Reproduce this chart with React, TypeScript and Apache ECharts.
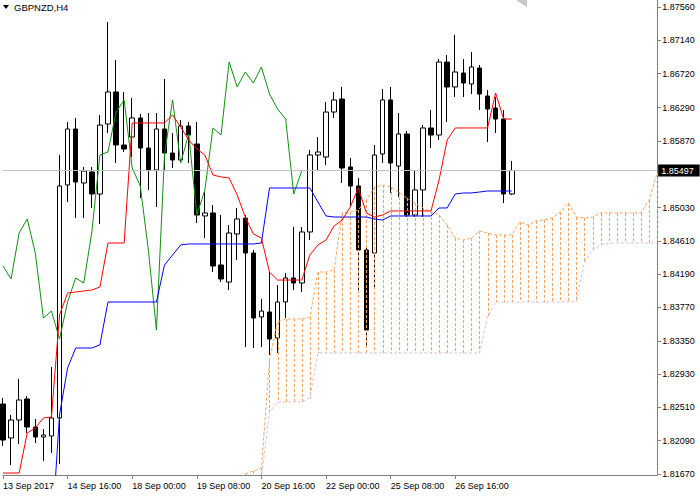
import React, { useEffect, useRef } from "react";
import * as echarts from "echarts";

// ---- tick labels ----
const xTickIndex = [0, 8, 16, 24, 32, 40, 48, 56];
const xTickLabels = [
  "13 Sep 2017", "14 Sep 16:00", "18 Sep 00:00", "19 Sep 08:00",
  "20 Sep 16:00", "22 Sep 00:00", "25 Sep 08:00", "26 Sep 16:00",
];
const yTickLabels = [
  "1.81670", "1.82090", "1.82510", "1.82930", "1.83350", "1.83770", "1.84190",
  "1.84610", "1.85030", "1.85870", "1.86290", "1.86720", "1.87140", "1.87560",
];
const slotCount = 82; // 64 bars + future slots for the shifted cloud
const lastPrice = 1.85497;
const lastPriceLabel = "1.85497";

// ---- candles: [open, close, low, high] ----
const candles = [
  [1.82553, 1.82098, 1.82023, 1.82628],
  [1.82124, 1.82351, 1.81783, 1.82414],
  [1.82351, 1.82603, 1.82048, 1.82868],
  [1.82616, 1.82262, 1.82187, 1.82653],
  [1.82262, 1.82136, 1.82061, 1.82363],
  [1.82136, 1.82161, 1.81834, 1.82237],
  [1.82149, 1.82376, 1.81934, 1.83019],
  [1.82376, 1.85302, 1.81796, 1.85693],
  [1.85315, 1.86021, 1.85100, 1.86109],
  [1.86021, 1.85353, 1.84898, 1.86160],
  [1.85340, 1.85491, 1.84898, 1.85542],
  [1.85479, 1.85201, 1.85025, 1.85542],
  [1.85201, 1.86071, 1.84823, 1.86198],
  [1.86084, 1.86488, 1.85971, 1.87371],
  [1.86488, 1.85819, 1.85592, 1.86891],
  [1.85819, 1.85769, 1.85731, 1.86488],
  [1.85920, 1.86160, 1.85668, 1.86412],
  [1.86160, 1.85781, 1.85151, 1.86210],
  [1.85781, 1.85504, 1.85252, 1.86223],
  [1.85504, 1.86021, 1.85037, 1.86223],
  [1.86021, 1.85718, 1.85491, 1.86652],
  [1.85718, 1.85630, 1.85529, 1.85971],
  [1.85630, 1.86059, 1.85592, 1.86134],
  [1.86059, 1.85945, 1.85592, 1.86109],
  [1.85832, 1.84936, 1.84835, 1.86109],
  [1.84924, 1.84962, 1.84646, 1.85226],
  [1.84962, 1.84293, 1.84217, 1.85062],
  [1.84306, 1.84129, 1.84091, 1.84936],
  [1.84091, 1.84709, 1.83990, 1.84810],
  [1.84697, 1.84886, 1.84369, 1.85025],
  [1.84898, 1.84457, 1.83271, 1.84936],
  [1.84457, 1.83637, 1.83259, 1.84495],
  [1.83650, 1.83725, 1.83271, 1.83877],
  [1.83713, 1.83372, 1.83171, 1.84217],
  [1.83385, 1.83839, 1.83196, 1.84053],
  [1.83839, 1.84142, 1.83637, 1.84205],
  [1.84142, 1.84079, 1.83990, 1.84785],
  [1.84079, 1.84722, 1.83965, 1.84785],
  [1.84722, 1.85693, 1.84621, 1.85756],
  [1.85693, 1.85731, 1.85504, 1.85920],
  [1.85668, 1.86235, 1.85567, 1.86362],
  [1.86235, 1.86387, 1.86160, 1.86488],
  [1.86399, 1.85529, 1.85340, 1.86551],
  [1.85542, 1.85302, 1.85037, 1.85655],
  [1.85302, 1.84495, 1.83990, 1.85403],
  [1.84495, 1.83486, 1.83271, 1.84558],
  [1.84457, 1.85693, 1.83990, 1.85819],
  [1.85706, 1.86387, 1.85592, 1.86525],
  [1.86387, 1.85592, 1.85214, 1.86551],
  [1.85554, 1.85958, 1.85163, 1.86223],
  [1.85958, 1.84936, 1.84911, 1.85996],
  [1.84936, 1.85252, 1.84911, 1.85504],
  [1.85252, 1.86034, 1.84911, 1.86071],
  [1.86034, 1.85945, 1.85781, 1.86261],
  [1.85945, 1.86866, 1.85882, 1.86904],
  [1.86866, 1.86551, 1.86109, 1.86954],
  [1.86551, 1.86740, 1.86425, 1.87207],
  [1.86727, 1.86601, 1.86425, 1.86904],
  [1.86589, 1.86803, 1.86462, 1.86992],
  [1.86790, 1.86462, 1.86261, 1.86828],
  [1.86437, 1.86273, 1.85857, 1.86513],
  [1.86286, 1.86147, 1.85971, 1.86425],
  [1.86147, 1.85201, 1.85088, 1.86261],
  [1.85201, 1.85497, 1.85189, 1.85617],
];

// ---- Ichimoku lines ----
const tenkan = [
  1.81682, 1.81682, 1.81682, 1.82187, 1.82250, 1.82376, 1.82389, 1.83675,
  1.83953, 1.83965, 1.83978, 1.83990, 1.84028, 1.84583, 1.84583, 1.84583,
  1.86097, 1.86097, 1.86097, 1.86097, 1.86097, 1.86198, 1.86046, 1.85882,
  1.85769, 1.85693, 1.85441, 1.85416, 1.85403, 1.85189, 1.84911, 1.84697,
  1.84646, 1.84217, 1.84116, 1.84116, 1.84116, 1.84116, 1.84432, 1.84558,
  1.84621, 1.84798, 1.84873, 1.85037, 1.85277, 1.84962, 1.84911, 1.84936,
  1.84987, 1.84987, 1.84987, 1.84987, 1.84987, 1.84987, 1.85378, 1.85882,
  1.86034, 1.86034, 1.86034, 1.86034, 1.86034, 1.86475, 1.86147, 1.86147,
];
const kijunStart = 6;
const kijun = [
  1.80837, 1.82414, 1.83007, 1.83259, 1.83259, 1.83259, 1.83297,
  1.83839, 1.83839, 1.83839, 1.83839, 1.83839, 1.83839, 1.83839,
  1.84306, 1.84432, 1.84558,
  1.84571, 1.84571, 1.84571, 1.84571, 1.84571, 1.84571, 1.84571, 1.84571, 1.84571,
  1.84583,
  1.85277, 1.85277, 1.85277, 1.85277, 1.85277, 1.85277,
  1.85100, 1.84924,
  1.84911, 1.84911, 1.84911, 1.84911, 1.84911,
  1.84886, 1.84873,
  1.84924, 1.84924, 1.84924, 1.84924, 1.84924, 1.84924,
  1.85025, 1.85025, 1.85201, 1.85214, 1.85214, 1.85226,
  1.85239, 1.85239, 1.85239, 1.85239,
];
const chikouShift = 26;
const spanStart = 29;
const spanA = [
  1.81594, 1.81670, 1.81707, 1.81745, 1.83107, 1.83587, 1.83625, 1.83625,
  1.83625, 1.83650, 1.84217, 1.84217, 1.84243, 1.84962, 1.84974, 1.84999,
  1.85125, 1.85289, 1.85315, 1.85289, 1.85226, 1.85151, 1.85088, 1.85025,
  1.84974, 1.84936, 1.84810, 1.84646, 1.84621, 1.84646, 1.84734, 1.84709,
  1.84684, 1.84684, 1.84684, 1.84848, 1.84810, 1.84861, 1.84873, 1.84898,
  1.84974, 1.85088, 1.84911, 1.84898, 1.84911, 1.84962, 1.84962, 1.84962,
  1.84962, 1.84962, 1.84962, 1.85125, 1.85466,
];
const spanB = [
  1.81342, 1.81342, 1.81468, 1.81619, 1.82452, 1.82578, 1.82578, 1.82578,
  1.82578, 1.82628,
  1.83196, 1.83196, 1.83196, 1.83196, 1.83196, 1.83196, 1.83196,
  1.83196, 1.83196, 1.83196, 1.83196, 1.83196, 1.83196, 1.83196,
  1.83196, 1.83196, 1.83196, 1.83196, 1.83196, 1.83196, 1.83196,
  1.83650,
  1.83839, 1.83839, 1.83839, 1.83839, 1.83839, 1.83839, 1.83839,
  1.83839, 1.83839, 1.83839, 1.83839,
  1.84343, 1.84495, 1.84558,
  1.84583, 1.84583, 1.84583, 1.84583, 1.84583, 1.84583, 1.84583,
];

const FONT = "Liberation Sans, Arial, sans-serif";

function pad(arr: number[], start: number): (number | null)[] {
  const out: (number | null)[] = new Array(slotCount).fill(null);
  arr.forEach((v, k) => {
    if (start + k < slotCount) out[start + k] = v;
  });
  return out;
}

export default function App() {
  const ref = useRef<HTMLDivElement>(null);

  useEffect(() => {
    if (!ref.current) return;
    const chart = echarts.init(ref.current, undefined, { renderer: "svg" });

    const categories = Array.from({ length: slotCount }, (_, i) => String(i));
    const labelMap: Record<string, string> = {};
    xTickIndex.forEach((idx, k) => (labelMap[String(idx)] = xTickLabels[k]));

    const chikou: (number | null)[] = new Array(slotCount).fill(null);
    for (let i = 0; i + chikouShift < candles.length; i++) {
      chikou[i] = candles[i + chikouShift][1];
    }

    const cloudData = spanA.map((a, k) => [spanStart + k, a, spanB[k]]);

    const yMin = 1.81657;
    const yMax = 1.87648;

    chart.setOption({
      animation: false,
      backgroundColor: "#ffffff",
      grid: { left: -1, right: 42.875, top: 0, bottom: 25, containLabel: false },
      xAxis: {
        type: "category",
        data: categories,
        boundaryGap: false,
        axisLine: { show: true, lineStyle: { color: "#808080", width: 1 } },
        axisTick: {
          show: true,
          length: 4,
          interval: (index: number) => xTickIndex.includes(index),
          lineStyle: { color: "#808080" },
        },
        axisLabel: {
          show: true,
          interval: (index: number) => xTickIndex.includes(index),
          formatter: (value: string) => labelMap[value] ?? "",
          align: "left",
          margin: 6,
          fontSize: 9,
          fontFamily: FONT,
          color: "#000",
        },
        splitLine: { show: false },
      },
      yAxis: {
        type: "value",
        position: "right",
        min: yMin,
        max: yMax,
        axisLine: { show: true, lineStyle: { color: "#808080", width: 1 } },
        axisTick: {
          show: true,
          length: 4,
          customValues: yTickLabels.map(Number),
          lineStyle: { color: "#808080" },
        },
        axisLabel: {
          show: true,
          customValues: yTickLabels.map(Number),
          formatter: (v: number) => {
            const hit = yTickLabels.find((s) => Math.abs(Number(s) - v) < 1e-7);
            return hit ?? "";
          },
          margin: 5,
          fontSize: 9,
          fontFamily: FONT,
          color: "#000",
        },
        splitLine: { show: false },
      },
      graphic: [
        {
          type: "polygon",
          shape: { points: [[3, 5], [9, 5], [6, 9]] },
          style: { fill: "#000" },
        },
        {
          type: "text",
          left: 14,
          top: 2,
          style: { text: "GBPNZD,H4", fill: "#000", fontSize: 9.5, fontFamily: FONT },
        },
        {
          type: "polygon",
          shape: { points: [[516, 0], [527, 0], [527, 7]] },
          style: { fill: "#c8c8c8" },
        },
      ],
      series: [
        {
          type: "line",
          data: new Array(slotCount).fill(null),
          z: 0,
          symbol: "none",
          silent: true,
          lineStyle: { width: 0 },
          markLine: {
            silent: true,
            precision: 5,
            symbol: ["none", "none"],
            lineStyle: { color: "#C0C0C0", width: 1, type: "solid" },
            label: {
              show: true,
              position: "end",
              formatter: lastPriceLabel,
              backgroundColor: "#000",
              color: "#fff",
              fontSize: 9,
              fontFamily: FONT,
              padding: [2, 6, 1, 3],
              distance: 1,
            },
            data: [{ yAxis: lastPrice }],
          },
        },
        {
          type: "candlestick",
          data: candles,
          barWidth: 5,
          z: 1,
          clip: true,
          itemStyle: {
            color: "#ffffff",
            color0: "#000000",
            borderColor: "#000000",
            borderColor0: "#000000",
            borderWidth: 1,
          },
        },
        {
          type: "custom",
          data: cloudData,
          z: 2,
          clip: true,
          silent: true,
          encode: { x: 0, y: [1, 2] },
          renderItem: (params: any, api: any) => {
            const k = params.dataIndex;
            const a = spanA[k];
            const b = spanB[k];
            const i = spanStart + k;
            const p1 = api.coord([i, a]);
            const p2 = api.coord([i, b]);
            const x = Math.round(p1[0]) + 0.5;
            return {
              type: "line",
              shape: { x1: x, y1: Math.round(p1[1]), x2: x, y2: Math.round(p2[1]) },
              style: {
                stroke: a >= b ? "#F4A460" : "#D8BFD8",
                lineWidth: 1,
                lineDash: [3, 2],
              },
            };
          },
        },
        {
          type: "line",
          data: pad(spanA, spanStart),
          z: 3,
          symbol: "none",
          silent: true,
          lineStyle: { color: "#F4A460", width: 1, type: [3, 2] },
        },
        {
          type: "line",
          data: pad(spanB, spanStart),
          z: 3,
          symbol: "none",
          silent: true,
          lineStyle: { color: "#D8BFD8", width: 1, type: [3, 2] },
        },
        {
          type: "line",
          data: chikou,
          z: 4,
          symbol: "none",
          silent: true,
          lineStyle: { color: "#109010", width: 1 },
        },
        {
          type: "line",
          data: pad(kijun, kijunStart),
          z: 4,
          symbol: "none",
          silent: true,
          lineStyle: { color: "#0000FF", width: 1 },
        },
        {
          type: "line",
          data: pad(tenkan, 0),
          z: 4,
          symbol: "none",
          silent: true,
          lineStyle: { color: "#FF0000", width: 1 },
        },
      ],
    });

    return () => chart.dispose();
  }, []);

  return (
    <div
      ref={ref}
      style={{ position: "fixed", left: 0, top: 0, width: 700, height: 500 }}
    />
  );
}
